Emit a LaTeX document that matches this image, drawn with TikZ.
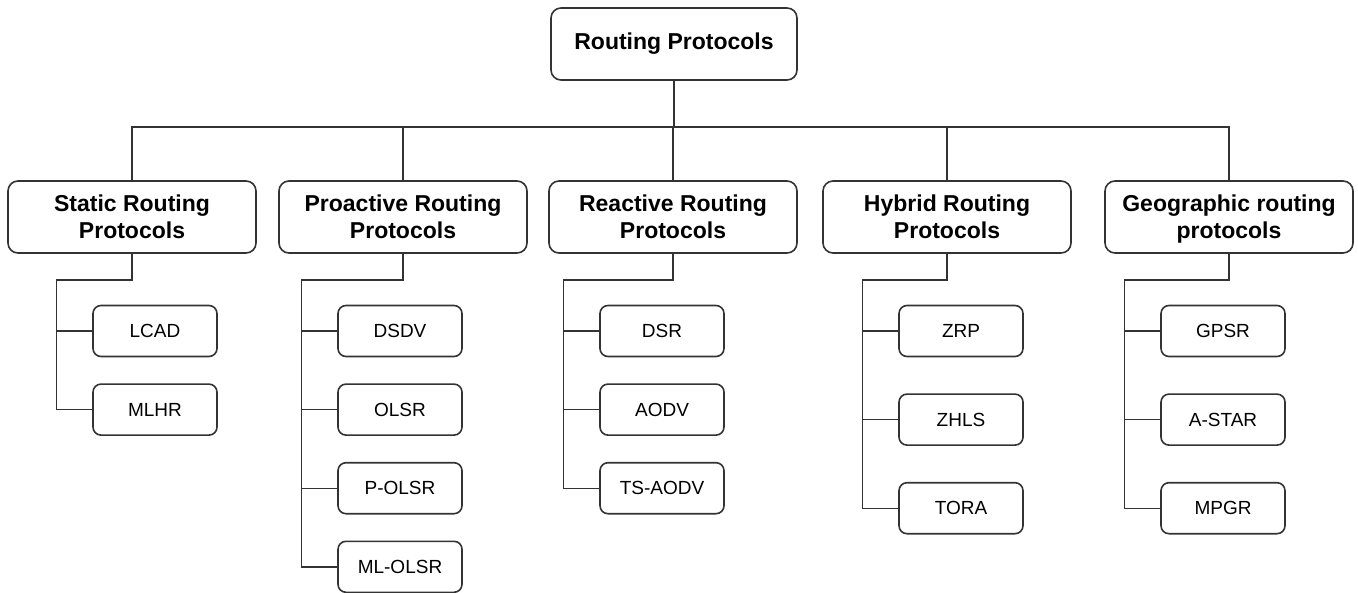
\documentclass[tikz,border=0pt]{standalone}
\usepackage{fontspec}
\setmainfont{Liberation Sans}
\usetikzlibrary{positioning}
\tikzstyle{rootbox} = [rectangle, rounded corners=5pt, minimum width=123pt, minimum height=36pt, text centered, draw=black!80, line width=0.8pt, font=\fontsize{11.5}{13.5}\selectfont\bfseries]
\tikzstyle{catbox} = [rectangle, rounded corners=5pt, minimum width=124pt, minimum height=36pt, align=center, text depth=0pt, draw=black!80, line width=0.8pt, font=\fontsize{11.5}{13.5}\selectfont\bfseries]
\tikzstyle{leaf} = [rectangle, rounded corners=4pt, minimum width=62pt, minimum height=25.5pt, text centered, draw=black!80, line width=0.8pt, font=\fontsize{9.5}{11}\selectfont]
\tikzstyle{line} = [draw=black!80, line width=0.7pt]

\begin{document}
\begin{tikzpicture}[x=0.5pt, y=-0.5pt, node distance=13pt]
\useasboundingbox (0,0) rectangle (1358,593);

% Nodes
\node (root) [rootbox] at (674,44) {Routing Protocols};
\coordinate (bus) at (674,127);

\node (static) [catbox] at (132,217) {Static Routing\\Protocols};
\node (proactive) [catbox] at (403,217) {Proactive Routing\\Protocols};
\node (reactive) [catbox] at (673,217) {Reactive Routing\\Protocols};
\node (hybrid) [catbox] at (947,217) {Hybrid Routing\\Protocols};
\node (geo) [catbox] at (1229,217) {Geographic routing\\protocols};

\node (lcad) [leaf] at (155,331) {LCAD};
\node (mlhr) [leaf, below=of lcad] {MLHR};

\node (dsdv) [leaf] at (400,331) {DSDV};
\node (olsr) [leaf, below=of dsdv] {OLSR};
\node (polsr) [leaf, below=of olsr] {P-OLSR};
\node (mlolsr) [leaf, below=of polsr] {ML-OLSR};

\node (dsr) [leaf] at (662,331) {DSR};
\node (aodv) [leaf, below=of dsr] {AODV};
\node (tsaodv) [leaf, below=of aodv] {TS-AODV};

\node (zrp) [leaf] at (961,331) {ZRP};
\node (zhls) [leaf, below=18pt of zrp] {ZHLS};
\node (tora) [leaf, below=18pt of zhls] {TORA};

\node (gpsr) [leaf] at (1223,331) {GPSR};
\node (astar) [leaf, below=18pt of gpsr] {A-STAR};
\node (mpgr) [leaf, below=18pt of astar] {MPGR};

% Lines
\draw [line] (root.south) -- (bus);
\draw [line] (static.north) |- (bus) -| (geo.north);
\draw [line] (proactive.north) -- (proactive.north |- bus);
\draw [line] (reactive.north) -- (reactive.north |- bus);
\draw [line] (hybrid.north) -- (hybrid.north |- bus);

\draw [line] (static.south) -- ++(0,26) -| ([xshift=-18pt]mlhr.west) -- (mlhr.west);
\draw [line] ([xshift=-18pt]lcad.west) -- (lcad.west);

\draw [line] (proactive.south) -- ++(0,26) -| ([xshift=-18pt]mlolsr.west) -- (mlolsr.west);
\draw [line] ([xshift=-18pt]dsdv.west) -- (dsdv.west);
\draw [line] ([xshift=-18pt]olsr.west) -- (olsr.west);
\draw [line] ([xshift=-18pt]polsr.west) -- (polsr.west);

\draw [line] (reactive.south) -- ++(0,26) -| ([xshift=-18pt]tsaodv.west) -- (tsaodv.west);
\draw [line] ([xshift=-18pt]dsr.west) -- (dsr.west);
\draw [line] ([xshift=-18pt]aodv.west) -- (aodv.west);

\draw [line] (hybrid.south) -- ++(0,26) -| ([xshift=-18pt]tora.west) -- (tora.west);
\draw [line] ([xshift=-18pt]zrp.west) -- (zrp.west);
\draw [line] ([xshift=-18pt]zhls.west) -- (zhls.west);

\draw [line] (geo.south) -- ++(0,26) -| ([xshift=-18pt]mpgr.west) -- (mpgr.west);
\draw [line] ([xshift=-18pt]gpsr.west) -- (gpsr.west);
\draw [line] ([xshift=-18pt]astar.west) -- (astar.west);

\end{tikzpicture}
\end{document}
